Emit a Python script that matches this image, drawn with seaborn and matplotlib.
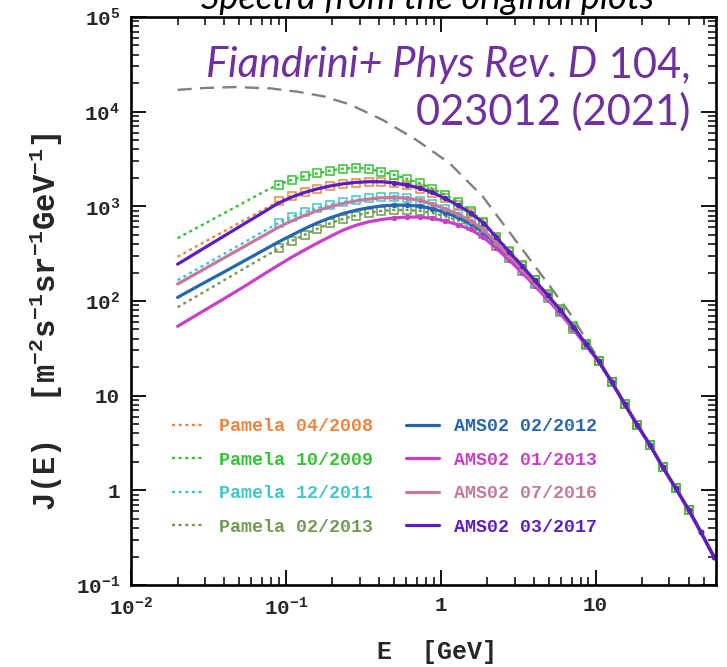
import matplotlib
matplotlib.use("Agg")
import matplotlib.pyplot as plt
import seaborn as sns
import pandas as pd
from matplotlib.lines import Line2D
from matplotlib.ticker import FixedLocator, FixedFormatter, LogLocator, NullFormatter

# ---------------- data ----------------
energy = [0.02, 0.028, 0.04, 0.056, 0.075, 0.09, 0.109, 0.132, 0.16, 0.193,
          0.234, 0.283, 0.342, 0.414, 0.5, 0.605, 0.73, 0.885, 1.07, 1.29,
          1.56, 1.89, 2.29, 2.77, 3.35, 4.05, 4.9, 5.9, 7.2, 8.7]
energy_tail = [10.5, 12.7, 15.4, 18.6, 22.5, 27.2, 33, 40, 48, 58]
flux_tail = [23, 14, 8.2, 4.9, 3.0, 1.75, 1.05, 0.62, 0.36, 0.2]

pamela_0408 = [293, 397, 547, 740, 961, 1134, 1290, 1420, 1530, 1630,
               1710, 1770, 1800, 1800, 1750, 1660, 1540, 1390, 1210, 1030,
               860, 665, 465, 330, 235, 165, 116, 81, 53.5, 35]
pamela_1009 = [461, 620, 848, 1141, 1475, 1700, 1900, 2080, 2230, 2380,
               2500, 2560, 2500, 2330, 2150, 1950, 1760, 1540, 1320, 1120,
               900, 680, 480, 340, 240, 168, 118, 82, 54, 35]
pamela_1211 = [166, 227, 316, 432, 568, 672, 770, 870, 960, 1040,
               1110, 1170, 1210, 1240, 1240, 1210, 1150, 1050, 930, 820,
               700, 560, 410, 300, 218, 155, 110, 78, 52, 34.5]
pamela_0213 = [86, 118, 166, 229, 302, 359, 430, 500, 580, 660,
               735, 800, 855, 895, 915, 915, 895, 850, 785, 710,
               625, 510, 385, 285, 208, 150, 107, 76, 51, 34]
ams_0212 = [109, 148, 203, 275, 358, 422, 495, 580, 670, 755,
            840, 910, 965, 1010, 1030, 1030, 1005, 945, 860, 765,
            660, 535, 395, 290, 212, 152, 108, 77, 51.5, 34]
ams_0113 = [54, 75, 106, 148, 200, 240, 290, 345, 410, 480,
            560, 630, 685, 725, 755, 770, 770, 745, 700, 640,
            570, 470, 360, 270, 200, 145, 104, 74, 50, 33.5]
ams_0716 = [151, 206, 286, 390, 510, 604, 700, 800, 900, 990,
            1070, 1140, 1190, 1230, 1240, 1220, 1160, 1060, 940, 825,
            705, 565, 410, 300, 218, 155, 110, 78, 52, 34.5]
ams_0317 = [245, 342, 487, 679, 906, 1085, 1250, 1400, 1530, 1640,
            1730, 1790, 1820, 1820, 1770, 1680, 1560, 1400, 1210, 1030,
            850, 670, 470, 330, 235, 165, 116, 81, 53.5, 35]

lis_energy = [0.02, 0.03, 0.047, 0.08, 0.12, 0.176, 0.26, 0.425, 0.7, 1.14,
              1.87, 2.8, 4.55, 6.8, 10.5, 15.4, 22.5, 33, 48, 58]
lis_flux = [17000, 17800, 18200, 17600, 16200, 14500, 11900, 8130, 5000, 2860,
            1270, 525, 182, 75, 24, 8.3, 3.0, 1.05, 0.36, 0.2]

pamela_range = (0.085, 42)
ams_range = (0.48, 60)

pamela_labels = ["Pamela 04/2008", "Pamela 10/2009", "Pamela 12/2011", "Pamela 02/2013"]
ams_labels = ["AMS02 02/2012", "AMS02 01/2013", "AMS02 07/2016", "AMS02 03/2017"]
pamela_colors = ["#f0843c", "#33c433", "#3fc6cc", "#729a50"]
ams_colors = ["#2367b0", "#c93fc9", "#c47a9c", "#5a1ec2"]
pamela_series = [pamela_0408, pamela_1009, pamela_1211, pamela_0213]
ams_series = [ams_0212, ams_0113, ams_0716, ams_0317]
pamela_draw_order = [3, 2, 0, 1]

x_ticks = [0.01, 0.1, 1, 10]
x_ticklabels = ["$10^{-2}$", "$10^{-1}$", "1", "10"]
y_ticks = [0.1, 1, 10, 100, 1e3, 1e4, 1e5]
y_ticklabels = ["$10^{-1}$", "1", "10", "$10^{2}$", "$10^{3}$", "$10^{4}$", "$10^{5}$"]

# ---------------- style ----------------
sns.set_theme(style="ticks")
plt.rcParams["font.family"] = ["Liberation Mono", "DejaVu Sans"]
plt.rcParams["font.weight"] = "bold"
plt.rcParams["mathtext.fontset"] = "custom"
plt.rcParams["mathtext.rm"] = "Liberation Mono:bold"
plt.rcParams["mathtext.it"] = "Liberation Mono:bold"
plt.rcParams["mathtext.bf"] = "Liberation Mono:bold"
plt.rcParams["mathtext.default"] = "rm"

fig = plt.figure(figsize=(7.27, 6.67), dpi=100)
ax = fig.add_axes([131 / 727, 82 / 667, 585 / 727, 568 / 667])
ax.set_xscale("log")
ax.set_yscale("log")

# LIS dashed
sns.lineplot(x=lis_energy, y=lis_flux, ax=ax, color="#808080", linewidth=1.7,
             linestyle=(0, (6, 3.5)), estimator=None, sort=False)

full_e = energy + energy_tail


def frame(values):
    return pd.DataFrame({"E": full_e, "J": values + flux_tail})


# Pamela: dotted model + open squares
for i in pamela_draw_order:
    vals, col = pamela_series[i], pamela_colors[i]
    df = frame(vals)
    sns.lineplot(data=df, x="E", y="J", ax=ax, color=col, linewidth=1.7,
                 linestyle=(0, (1.3, 1.5)), estimator=None, sort=False)
    d = df[(df.E >= pamela_range[0]) & (df.E <= pamela_range[1])]
    sns.lineplot(data=d, x="E", y="J", ax=ax, color=col, linestyle="none",
                 marker="s", markersize=5.5, markerfacecolor="none",
                 markeredgecolor=col, markeredgewidth=1.1, estimator=None, sort=False)

# AMS02: solid model + filled dots
for vals, col in zip(ams_series, ams_colors):
    df = frame(vals)
    sns.lineplot(data=df, x="E", y="J", ax=ax, color=col, linewidth=2.3,
                 estimator=None, sort=False)
    d = df[(df.E >= ams_range[0]) & (df.E <= ams_range[1])]
    sns.lineplot(data=d, x="E", y="J", ax=ax, color=col, linestyle="none",
                 marker="o", markersize=4, markeredgewidth=0, estimator=None, sort=False)

ax.set_xlim(0.01, 60)
ax.set_ylim(0.1, 1e5)
ax.set_xlabel("")
ax.set_ylabel("")

ax.xaxis.set_major_locator(FixedLocator(x_ticks))
ax.xaxis.set_major_formatter(FixedFormatter(x_ticklabels))
ax.yaxis.set_major_locator(FixedLocator(y_ticks))
ax.yaxis.set_major_formatter(FixedFormatter(y_ticklabels))
ax.xaxis.set_minor_locator(LogLocator(base=10, subs=range(2, 10), numticks=20))
ax.yaxis.set_minor_locator(LogLocator(base=10, subs=range(2, 10), numticks=20))
ax.xaxis.set_minor_formatter(NullFormatter())
ax.yaxis.set_minor_formatter(NullFormatter())
ax.tick_params(which="both", direction="in", top=True, right=True, color="black")
ax.tick_params(which="major", length=11, width=1.3, labelsize=15, pad=8)
ax.tick_params(which="minor", length=6, width=1.1)
for s in ax.spines.values():
    s.set_linewidth(1.9)
    s.set_color("black")

# axis labels
fig.text(437 / 727, 1 - 652 / 667, "E  [GeV]", ha="center", va="center",
         fontsize=18, fontweight="bold")
fig.text(46 / 727, 1 - 322 / 667,
         "J(E)  [m$^{-2}$s$^{-1}$sr$^{-1}$GeV$^{-1}$]",
         rotation=90, ha="center", va="center", fontsize=22, fontweight="bold")

# legend
handles = [Line2D([], [], color=c, linewidth=1.7, linestyle=(0, (1.3, 1.5))) for c in pamela_colors]
handles += [Line2D([], [], color=c, linewidth=2.3) for c in ams_colors]
leg = ax.legend(handles, pamela_labels + ams_labels, ncol=2, loc="upper left",
                bbox_to_anchor=(0.0635, 0.30), frameon=False,
                labelcolor=pamela_colors + ams_colors,
                prop={"family": "Liberation Mono", "weight": "bold", "size": 13.2},
                handlelength=1.8, columnspacing=1.8, labelspacing=0.9,
                handletextpad=0.8, borderaxespad=0, borderpad=0.2)

# citation annotation
purple = "#7030a0"
t_num = fig.text(690 / 727, 1 - 77 / 667, " 104,", ha="right", va="baseline",
                 fontsize=30, color=purple, family="Lato", fontweight="normal")
fig.text(690 / 727, 1 - 125 / 667, "023012 (2021)", ha="right", va="baseline",
         fontsize=30, color=purple, family="Lato", fontweight="normal")
fig.canvas.draw()
bb = t_num.get_window_extent()
fig.text(bb.x0 / fig.bbox.width, 1 - 77 / 667, "Fiandrini+ Phys Rev. D", ha="right",
         va="baseline", fontsize=30, color=purple, family="Lato", style="italic",
         fontweight="normal")

# heading of the slide, cut by the top edge as in the reference
fig.text(428 / 727, 1 - 9 / 667, "Spectra from the original plots", ha="center",
         va="baseline", fontsize=26, color="black", family="Lato", style="italic",
         fontweight="normal")

fig.savefig("out.png", dpi=100)
